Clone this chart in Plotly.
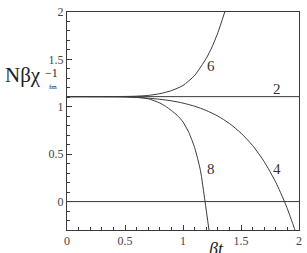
import plotly.graph_objects as go

# Curve data (x = beta*t, y = N beta chi^-1)
x2 = [0.0, 2.0]
y2 = [1.107, 1.107]

x4 = [0.0, 0.5, 0.6, 0.7, 0.8, 0.9, 1.0, 1.1, 1.2, 1.3, 1.4, 1.5, 1.6, 1.7, 1.8, 1.875, 1.9, 1.95, 1.98]
y4 = [1.107, 1.103, 1.098, 1.091, 1.079, 1.063, 1.039, 1.006, 0.961, 0.902, 0.824, 0.722, 0.591, 0.421, 0.203, 0.0, -0.077, -0.246, -0.357]

x6 = [0.0, 0.5, 0.6, 0.7, 0.8, 0.9, 1.0, 1.1, 1.2, 1.25, 1.3, 1.36]
y6 = [1.107, 1.109, 1.112, 1.12, 1.138, 1.17, 1.225, 1.33, 1.51, 1.63, 1.78, 2.0]

x8 = [0.0, 0.5, 0.6, 0.7, 0.8, 0.85, 0.9, 0.95, 1.0, 1.05, 1.1, 1.15, 1.19, 1.225]
y8 = [1.107, 1.106, 1.10, 1.085, 1.04, 1.005, 0.96, 0.91, 0.84, 0.73, 0.57, 0.33, 0.0, -0.31]

x0 = [0.0, 2.0]
y0 = [0.0, 0.0]

labels = ["2", "4", "6", "8"]
label_x = [1.81, 1.81, 1.245, 1.245]
label_y = [1.19, 0.34, 1.43, 0.34]

xticks = [0, 0.5, 1, 1.5, 2]
xticktext = ["0", "0.5", "1", "1.5", "2"]
yticks = [0, 0.5, 1, 1.5, 2]
yticktext = ["0", "0.5", "1", "1.5", "2"]

line_color = "#3a3a3a"
font_family = "Liberation Serif"

fig = go.Figure()
for xs, ys in [(x0, y0), (x2, y2), (x4, y4), (x6, y6), (x8, y8)]:
    fig.add_trace(go.Scatter(x=xs, y=ys, mode="lines", line=dict(color=line_color, width=1, shape="spline", smoothing=0.6),
                             showlegend=False, hoverinfo="skip", cliponaxis=True))

for t, lx, ly in zip(labels, label_x, label_y):
    fig.add_annotation(x=lx, y=ly, text=t, showarrow=False, font=dict(family=font_family, size=15, color="#333"),
                       xanchor="center", yanchor="middle")

# y axis title pieces
fig.add_annotation(xref="paper", yref="paper", x=-0.275, y=0.712, text="Nβχ", showarrow=False,
                   xanchor="left", yanchor="middle", font=dict(family=font_family, size=21, color="#222"))
fig.add_annotation(xref="paper", yref="paper", x=-0.102, y=0.722, text="−1", showarrow=False,
                   xanchor="left", yanchor="middle", font=dict(family=font_family, size=12, color="#222"))
fig.add_annotation(xref="paper", yref="paper", x=-0.085, y=0.655, text="fm", showarrow=False,
                   xanchor="left", yanchor="middle", font=dict(family=font_family, size=7, color="#222"))
# x axis title
fig.add_annotation(xref="paper", yref="paper", x=0.643, y=-0.085, text="<i>βt</i>", showarrow=False,
                   xanchor="center", yanchor="middle", font=dict(family=font_family, size=18, color="#222"))

axis_common = dict(showgrid=False, zeroline=False, showline=True, linecolor=line_color, linewidth=1,
                   mirror=True, ticks="inside", ticklen=5, tickwidth=1, tickcolor=line_color,
                   tickfont=dict(family=font_family, size=12, color="#444"),
                   minor=dict(ticks="inside", ticklen=3, tickwidth=1, tickcolor=line_color, dtick=0.1))

fig.update_xaxes(range=[0, 2], tickvals=xticks, ticktext=xticktext, **axis_common)
fig.update_yaxes(range=[-0.3, 2], tickvals=yticks, ticktext=yticktext, **axis_common)

fig.update_layout(width=307, height=253, margin=dict(l=67, r=5, t=9, b=21),
                  paper_bgcolor="white", plot_bgcolor="white", showlegend=False)

fig.write_html("out.html")
